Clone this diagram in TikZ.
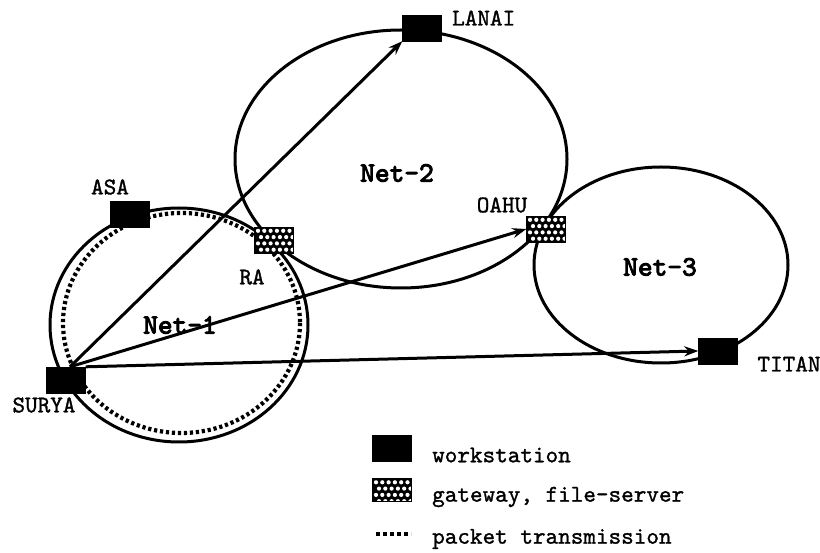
\documentclass[tikz,border=0pt]{standalone}
\usepackage{fontspec}
\newfontfamily\hostfont[Extension=.otf,FakeBold=1.2]{lmmono10-regular}
\newfontfamily\netfont[Extension=.otf,FakeBold=3.5]{lmmono10-regular}
\usetikzlibrary{arrows.meta,calc}
\begin{document}
\begin{tikzpicture}[x=1pt,y=-1pt,
  net/.style={line width=3pt},
  pkt/.style={line width=4.2pt, dash pattern=on 3.2pt off 2.8pt},
  ws/.style={fill=black, draw=black, minimum width=39pt, minimum height=26pt, inner sep=0pt},
  gw/.style={ws, path picture={
     \foreach \i in {0,...,5}{\foreach \j in {0,...,3}{
       \fill[white] ($(path picture bounding box.north west)+({3.5+\i*6.3+mod(\j,2)*3},{3.8+\j*6.3})$) circle (2.1);}}}},
  lbl/.style={font=\hostfont\fontsize{24}{24}\selectfont, inner sep=0pt},
  netlbl/.style={font=\netfont\fontsize{28}{28}\selectfont, inner sep=0pt},
  arr/.style={line width=3pt, -{Stealth[length=14pt,width=10pt]}}
]
\useasboundingbox (0,0) rectangle (820,553);
% networks
\draw[net] (179,325) ellipse [x radius=129, y radius=117];
\draw[pkt] (181.5,323) ellipse [x radius=118.5, y radius=110];
\draw[net] (401,159) ellipse [x radius=166, y radius=129];
\draw[net] (661,265) ellipse [x radius=127, y radius=98];
% network labels
\node[netlbl] (n1) at (180,325) {Net-1};
\node[netlbl] (n2) at (397,173) {Net-2};
\node[netlbl] (n3) at (660,267) {Net-3};
% hosts
\node[ws] (asa) at (130,214) {};
\node[ws] (surya) at (66,380) {};
\node[ws] (lanai) at (422,28) {};
\node[ws] (titan) at (718,351) {};
\node[gw] (ra) at (274,240) {};
\node[gw] (oahu) at (546,229) {};
% host labels
\node[lbl] (asal) at (110,187) {ASA};
\node[lbl] (suryal) at (44,405) {SURYA};
\node[lbl, anchor=west] (lanail) at (452,18) {LANAI};
\node[lbl] (ral) at (252,277) {RA};
\node[lbl] (oahul) at (502,205) {OAHU};
\node[lbl] (titanl) at (789,364) {TITAN};
% transmissions
\coordinate (s1) at ($(surya.north)+(4,0)$);
\draw[arr] (s1) -- (lanai.south west);
\draw[arr] (s1) -- (oahu.west);
\draw[arr] (surya.north east) -- (titan.west);
% legend
\node[ws] (lw) at (392,448) {};
\node[gw, minimum height=23pt] (lg) at (392,490) {};
\coordinate (ld1) at (376,534);
\coordinate (ld2) at (411,534);
\draw[pkt, line width=4pt, dash pattern=on 4pt off 3pt] (ld1) -- (ld2);
\node[lbl, anchor=west] (lwt) at (432,455) {workstation};
\node[lbl, anchor=west] (lgt) at (432,497) {gateway, file-server};
\node[lbl, anchor=west] (lpt) at (432,539) {packet transmission};
\end{tikzpicture}
\end{document}
